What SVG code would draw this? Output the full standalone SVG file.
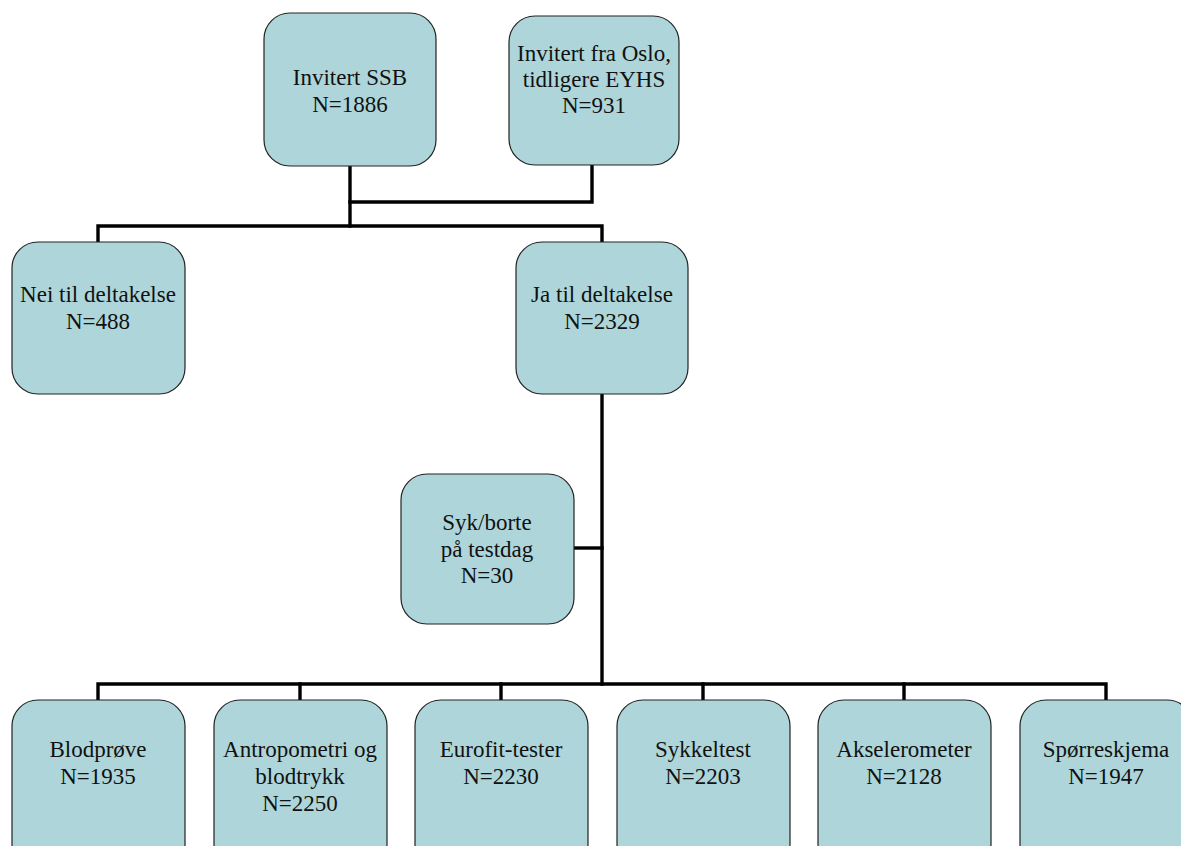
<svg xmlns="http://www.w3.org/2000/svg" width="1181" height="846" viewBox="0 0 1181 846">
<style>
.box{fill:#AED6DA;stroke:#222;stroke-width:1.2}
.t{font-family:"Liberation Serif","Times New Roman",serif;font-size:23px;fill:#111;text-anchor:middle}
.c{fill:none;stroke:#000;stroke-width:3.4;stroke-linecap:square}
</style>
<rect width="1181" height="846" fill="#fff"/>
<g id="connectors">
<path class="c" d="M350 166 V226"/>
<path class="c" d="M592 165 V202 H350"/>
<path class="c" d="M98 242 V226 H602 V242"/>
<path class="c" d="M602 394 V684"/>
<path class="c" d="M574 548 H602"/>
<path class="c" d="M98 700 V684 H1106 V700"/>
<path class="c" d="M300 684 V700 M501 684 V700 M703 684 V700 M904 684 V700"/>
</g>
<g id="n-ssb"><rect class="box" x="264" y="13" width="172" height="153" rx="26"/><text class="t" x="350" y="85">Invitert SSB</text><text class="t" x="350" y="112">N=1886</text></g>
<g id="n-oslo"><rect class="box" x="509" y="16" width="170" height="149" rx="26"/><text class="t" x="594" y="61">Invitert fra Oslo,</text><text class="t" x="594" y="87">tidligere EYHS</text><text class="t" x="594" y="113">N=931</text></g>
<g id="n-nei"><rect class="box" x="12" y="242" width="173" height="152" rx="26"/><text class="t" x="98" y="302">Nei til deltakelse</text><text class="t" x="98" y="329">N=488</text></g>
<g id="n-ja"><rect class="box" x="516" y="242" width="172" height="152" rx="26"/><text class="t" x="602" y="302">Ja til deltakelse</text><text class="t" x="602" y="329">N=2329</text></g>
<g id="n-syk"><rect class="box" x="401" y="474" width="173" height="150" rx="26"/><text class="t" x="487" y="530">Syk/borte</text><text class="t" x="487" y="557">på testdag</text><text class="t" x="487" y="583">N=30</text></g>
<g id="n-blod"><rect class="box" x="12" y="700" width="173" height="170" rx="26"/><text class="t" x="98" y="757">Blodprøve</text><text class="t" x="98" y="784">N=1935</text></g>
<g id="n-antro"><rect class="box" x="214" y="700" width="173" height="170" rx="26"/><text class="t" x="300" y="757">Antropometri og</text><text class="t" x="300" y="784">blodtrykk</text><text class="t" x="300" y="811">N=2250</text></g>
<g id="n-euro"><rect class="box" x="415" y="700" width="173" height="170" rx="26"/><text class="t" x="501" y="757">Eurofit-tester</text><text class="t" x="501" y="784">N=2230</text></g>
<g id="n-sykkel"><rect class="box" x="617" y="700" width="173" height="170" rx="26"/><text class="t" x="703" y="757">Sykkeltest</text><text class="t" x="703" y="784">N=2203</text></g>
<g id="n-aksel"><rect class="box" x="818" y="700" width="173" height="170" rx="26"/><text class="t" x="904" y="757">Akselerometer</text><text class="t" x="904" y="784">N=2128</text></g>
<g id="n-sporre"><rect class="box" x="1020" y="700" width="173" height="170" rx="26"/><text class="t" x="1106" y="757">Spørreskjema</text><text class="t" x="1106" y="784">N=1947</text></g>
</svg>
